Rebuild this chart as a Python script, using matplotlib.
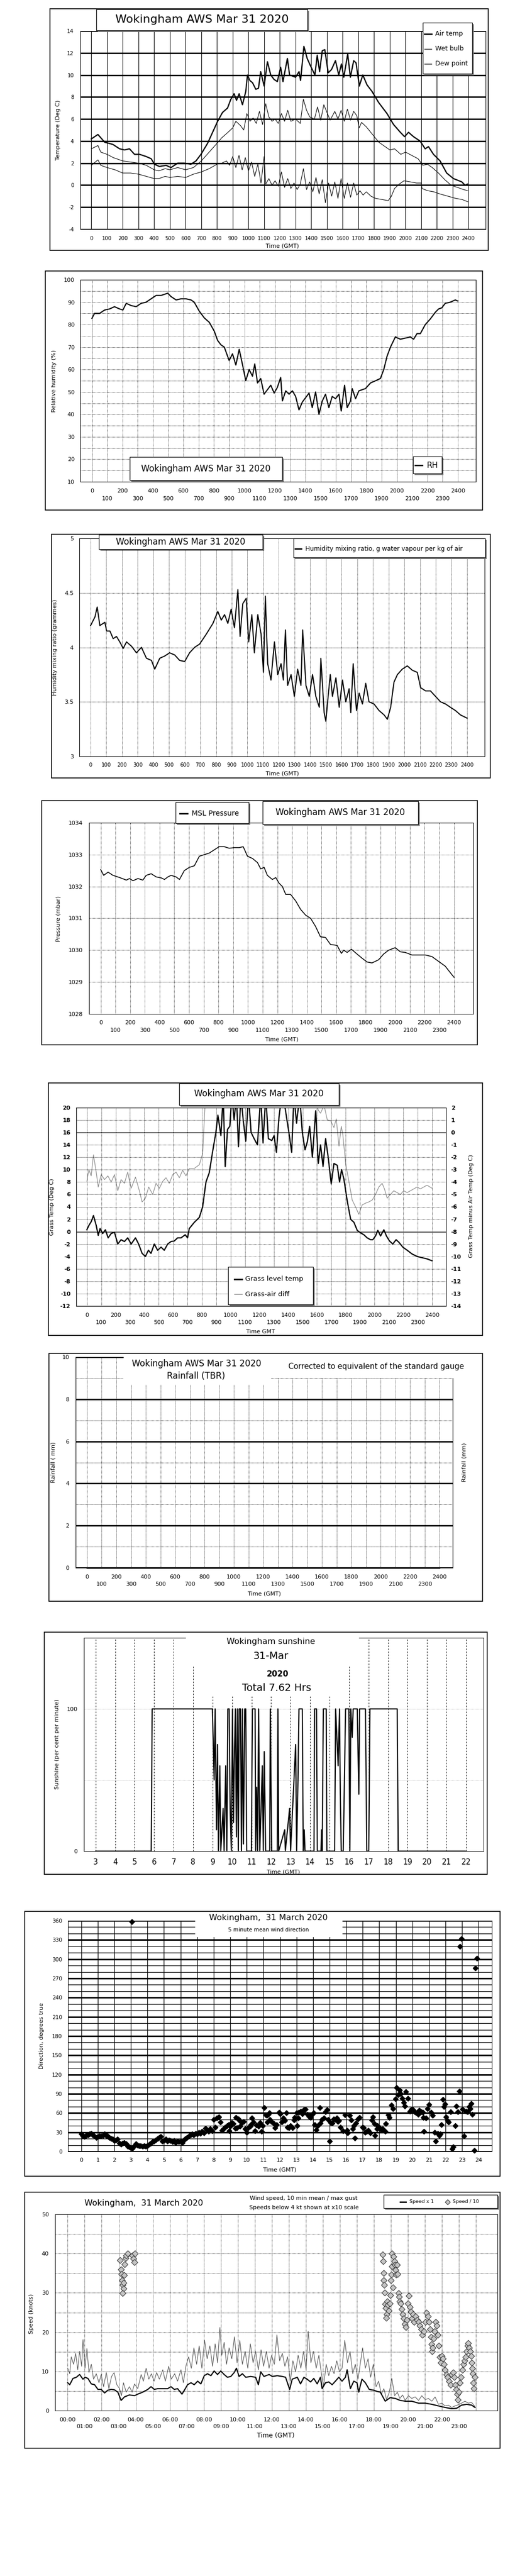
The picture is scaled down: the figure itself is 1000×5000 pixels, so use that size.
import matplotlib
matplotlib.use("Agg")
import matplotlib.pyplot as plt
from matplotlib.patches import Rectangle
from matplotlib.lines import Line2D

plt.rcParams["font.family"] = ["DejaVu Sans"]

W, H = 1000, 5000
STATION = "Wokingham AWS Mar 31 2020"

# ---------------- data (hours GMT) ----------------
air_hours = [0.0, 0.42, 0.85, 1.37, 1.80, 2.11, 2.43, 2.75, 3.07, 3.49, 3.81, 4.02, 4.33, 4.76, 5.07, 5.50,
             5.92, 6.34, 6.66, 6.98, 7.40, 7.72, 8.04, 8.35, 8.67, 8.88, 9.09, 9.24, 9.41, 9.62, 9.83, 9.94,
             10.09, 10.26, 10.47, 10.64, 10.78, 11.00, 11.21, 11.42, 11.63, 11.84, 12.05, 12.20, 12.48, 12.62,
             13.00, 13.22, 13.32, 13.53, 13.74, 13.96, 14.23, 14.38, 14.53, 14.70, 14.86, 15.08, 15.29, 15.54,
             15.75, 15.92, 16.07, 16.32, 16.49, 16.70, 16.85, 17.06, 17.28, 17.55, 17.87, 18.29, 18.82, 19.24,
             19.67, 19.94, 20.19, 20.51, 20.93, 21.25, 21.46, 21.78, 22.20, 22.62, 23.05, 23.58, 23.79, 23.96]
air_temp = [4.2, 4.6, 3.9, 3.7, 3.3, 3.2, 3.3, 2.8, 2.8, 2.6, 2.4, 1.9, 1.7, 1.8, 1.6, 2.0,
            2.0, 1.9, 2.2, 2.8, 3.8, 4.8, 5.8, 6.6, 7.0, 7.8, 8.3, 7.7, 8.3, 7.3, 8.5, 10.0,
            9.5, 9.3, 8.7, 8.8, 10.3, 9.0, 11.2, 10.0, 9.6, 9.4, 10.7, 9.4, 11.5, 10.0,
            9.8, 10.3, 9.5, 12.6, 11.5, 10.8, 10.0, 11.8, 10.3, 12.2, 12.3, 10.2, 10.5, 11.3,
            10.0, 11.0, 9.8, 11.9, 9.8, 11.3, 11.1, 9.0, 10.0, 9.1, 8.5, 7.5, 6.5, 5.5,
            4.8, 4.4, 4.8, 4.4, 4.0, 3.3, 3.5, 2.8, 2.2, 1.1, 0.6, 0.3, 0.0, 0.1]

wet_hours = [0.0, 0.42, 0.6, 1.0, 1.4, 2.0, 2.5, 3.0, 3.5, 4.0, 4.3, 4.7, 5.0, 5.5, 6.0, 6.5, 7.0, 7.5, 8.0,
             8.3, 8.7, 9.0, 9.2, 9.5, 9.7, 9.9, 10.1, 10.3, 10.5, 10.7, 10.9, 11.1, 11.3, 11.5, 11.7, 11.9,
             12.1, 12.3, 12.5, 12.7, 13.0, 13.3, 13.5, 13.7, 13.9, 14.2, 14.4, 14.6, 14.8, 15.0, 15.2, 15.5,
             15.7, 15.9, 16.1, 16.3, 16.5, 16.7, 16.9, 17.05, 17.2, 17.5, 17.9, 18.3, 18.7, 19.0, 19.3, 19.7,
             20.0, 20.4, 20.8, 21.1, 21.4, 21.7, 22.1, 22.5, 22.9, 23.3, 23.7, 23.96]
wet_bulb = [3.3, 3.6, 3.0, 2.8, 2.5, 2.2, 2.1, 2.0, 1.8, 1.4, 1.3, 1.5, 1.4, 1.6, 1.4, 1.6, 2.2, 3.0, 3.8,
            4.3, 4.8, 5.2, 5.8, 5.4, 5.0, 6.5, 5.8, 6.1, 5.6, 6.7, 5.5, 7.4, 6.2, 5.8, 6.0, 5.6,
            6.5, 5.8, 6.8, 5.8, 6.0, 5.6, 7.8, 6.8, 6.2, 6.0, 7.1, 5.9, 7.3, 6.6, 5.9, 6.7,
            6.0, 6.8, 5.8, 6.9, 5.9, 6.7, 6.3, 5.2, 5.7, 5.3, 4.6, 3.9, 3.5, 3.2, 3.3, 2.8,
            3.0, 2.7, 2.4, 1.8, 1.9, 1.6, 1.1, 0.5, 0.0, -0.2, -0.4, -0.5]

dew_hours = [0.0, 0.42, 0.6, 1.0, 1.5, 2.0, 2.5, 3.0, 3.5, 4.0, 4.3, 4.7, 5.0, 5.5, 6.0, 6.5, 7.0, 7.5, 8.0,
             8.3, 8.6, 8.8, 9.0, 9.2, 9.4, 9.6, 9.8, 10.0, 10.2, 10.4, 10.6, 10.8, 11.0, 11.1, 11.3, 11.5,
             11.7, 11.9, 12.1, 12.3, 12.5, 12.7, 12.9, 13.1, 13.3, 13.5, 13.7, 13.9, 14.1, 14.3, 14.5, 14.7,
             14.9, 15.1, 15.3, 15.5, 15.7, 15.9, 16.1, 16.3, 16.5, 16.7, 16.9, 17.1, 17.3, 17.5, 17.8, 18.1,
             18.5, 18.9, 19.1, 19.3, 19.6, 19.9, 20.3, 20.7, 21.0, 21.05, 21.4, 21.8, 22.2, 22.7, 23.2, 23.6,
             23.96]
dew_point = [1.8, 2.3, 1.8, 1.6, 1.4, 1.1, 1.1, 1.0, 0.8, 0.6, 0.6, 0.8, 0.7, 0.8, 0.7, 1.0, 1.2, 1.5, 1.9,
             2.0, 2.2, 1.8, 2.6, 1.6, 2.7, 1.4, 2.5, 1.3, 2.1, 0.8, 1.9, 0.2, 2.6, 0.1, 0.6, 0.0,
             0.4, -0.1, 1.2, -0.2, 0.6, -0.3, 0.2, -0.4, 0.1, 1.5, -0.4, 0.3, -0.6, 0.7, -0.8, 0.5,
             -1.6, 0.2, -1.0, 0.3, -1.2, 0.6, -1.2, 0.2, -1.1, 0.2, -0.9, -0.5, -0.9, -0.6, -1.0, -1.2,
             -1.3, -1.4, -1.0, -0.3, 0.1, 0.4, 0.3, 0.2, 0.2, -0.3, -0.5, -0.6, -0.8, -1.0, -1.2, -1.3,
             -1.5]

rh_hours = [0.0, 0.17, 0.5, 0.83, 1.16, 1.48, 1.81, 2.03, 2.25, 2.57, 2.9, 3.23, 3.55, 3.88, 4.21, 4.53,
            4.97, 5.19, 5.52, 5.84, 6.17, 6.5, 6.71, 7.04, 7.37, 7.7, 8.03, 8.24, 8.46, 8.68, 9.0, 9.22,
            9.44, 9.66, 9.88, 10.09, 10.31, 10.53, 10.68, 10.86, 11.07, 11.29, 11.51, 11.73, 11.95, 12.16,
            12.38, 12.49, 12.71, 12.93, 13.15, 13.36, 13.58, 13.8, 14.02, 14.24, 14.45, 14.67, 14.89, 15.11,
            15.32, 15.54, 15.76, 15.98, 16.2, 16.35, 16.57, 16.74, 16.96, 17.07, 17.29, 17.51, 17.94, 18.27,
            18.6, 18.92, 19.14, 19.36, 19.58, 19.9, 20.23, 20.56, 20.88, 21.1, 21.32, 21.54, 21.86, 22.19,
            22.52, 22.74, 22.95, 23.17, 23.5, 23.83, 24.0]
rh = [82.8, 85, 85, 86.5, 87, 88, 87, 86.5, 89.5, 88.5, 88, 89.5, 90, 91.5, 93, 93,
      94, 92.5, 91, 91.5, 91.5, 91, 90, 86, 83, 81, 77, 73, 71, 70, 64, 67,
      62, 69, 62, 55, 60, 57, 62.5, 54, 56, 49, 51, 53, 49.5, 52,
      56.5, 46, 50.5, 49, 50.5, 48, 42, 45.5, 47.5, 49.5, 43, 50, 40, 46,
      49, 43, 48, 47, 49, 41.5, 53, 43, 46, 51.5, 47, 50.5, 51.5, 54,
      55, 56, 60, 66, 70, 74.5, 73.5, 74, 74.5, 73.5, 76, 76, 80, 82.5,
      85.5, 87, 87.5, 89.5, 90, 91, 90.5]

mr_hours = [0.0, 0.28, 0.42, 0.59, 0.91, 1.02, 1.23, 1.44, 1.65, 1.86, 2.08, 2.29, 2.61, 2.92, 3.24, 3.56,
            3.88, 4.09, 4.41, 4.72, 5.04, 5.36, 5.68, 6.0, 6.31, 6.63, 6.95, 7.37, 7.8, 8.11, 8.33, 8.54,
            8.75, 8.96, 9.17, 9.39, 9.53, 9.7, 9.92, 10.08, 10.28, 10.44, 10.66, 10.87, 11.02, 11.14, 11.29,
            11.5, 11.72, 11.93, 12.14, 12.29, 12.42, 12.56, 12.78, 12.99, 13.2, 13.41, 13.52, 13.73, 13.94,
            14.15, 14.36, 14.58, 14.68, 14.89, 15.0, 15.11, 15.28, 15.42, 15.64, 15.85, 16.06, 16.27, 16.48,
            16.59, 16.74, 16.95, 17.12, 17.33, 17.54, 17.75, 18.07, 18.39, 18.71, 18.92, 19.13, 19.34, 19.56,
            19.87, 20.19, 20.51, 20.83, 21.04, 21.36, 21.67, 21.99, 22.31, 22.63, 22.94, 23.26, 23.58, 24.0]
mixing_ratio = [4.2, 4.28, 4.37, 4.2, 4.23, 4.15, 4.15, 4.08, 4.1, 4.05, 3.99, 4.05, 4.01, 3.95, 4.0, 3.9,
                3.88, 3.8, 3.9, 3.92, 3.95, 3.93, 3.88, 3.87, 3.95, 4.0, 4.03, 4.12, 4.22, 4.33, 4.25, 4.3,
                4.22, 4.35, 4.18, 4.53, 4.1, 4.4, 4.45, 4.05, 4.3, 3.95, 4.3, 4.12, 3.77, 4.47, 3.85,
                3.7, 4.05, 3.75, 3.85, 3.7, 4.16, 3.65, 3.75, 3.55, 3.8, 3.65, 4.16, 3.65, 3.55,
                3.75, 3.55, 3.45, 3.9, 3.4, 3.32, 3.5, 3.75, 3.55, 3.72, 3.45, 3.7, 3.5, 3.62,
                3.4, 3.85, 3.42, 3.58, 3.48, 3.67, 3.5, 3.48, 3.42, 3.38, 3.34, 3.45, 3.68, 3.75,
                3.8, 3.83, 3.79, 3.77, 3.63, 3.6, 3.6, 3.55, 3.5, 3.48, 3.45, 3.42, 3.38, 3.35]

p_hours = [0.0, 0.2, 0.5, 0.83, 1.29, 1.74, 1.96, 2.19, 2.53, 2.86, 3.09, 3.43, 3.77, 4.11, 4.33, 4.56,
           4.78, 5.12, 5.35, 5.68, 6.02, 6.36, 6.7, 7.04, 7.38, 7.71, 8.05, 8.39, 8.73, 9.07, 9.41, 9.68,
           9.97, 10.31, 10.65, 10.87, 11.1, 11.32, 11.66, 11.89, 12.12, 12.34, 12.57, 12.9, 13.24, 13.58,
           13.92, 14.26, 14.59, 14.93, 15.27, 15.61, 16.06, 16.35, 16.51, 16.74, 17.03, 17.41, 17.75, 18.09,
           18.43, 18.88, 19.22, 19.56, 20.01, 20.35, 20.69, 21.14, 21.59, 22.05, 22.5, 22.95, 23.4, 23.74,
           24.0]
msl_pressure = [1032.53, 1032.35, 1032.45, 1032.35, 1032.28, 1032.2, 1032.25, 1032.18, 1032.25, 1032.2,
                1032.35, 1032.4, 1032.3, 1032.27, 1032.22, 1032.3, 1032.35, 1032.3, 1032.22, 1032.5,
                1032.6, 1032.65, 1032.95, 1033.0, 1033.05, 1033.15, 1033.25, 1033.25, 1033.2, 1033.22,
                1033.22, 1033.25, 1032.95, 1032.88, 1032.75, 1032.55, 1032.6, 1032.35, 1032.22, 1032.28,
                1032.1, 1032.0, 1031.75, 1031.75, 1031.55, 1031.28, 1031.1, 1031.0, 1030.75, 1030.42,
                1030.4, 1030.18, 1030.15, 1029.9, 1030.0, 1029.93, 1030.03, 1029.88, 1029.75, 1029.63,
                1029.6, 1029.7, 1029.88, 1030.0, 1030.08, 1029.95, 1029.93, 1029.85, 1029.85, 1029.85,
                1029.8, 1029.65, 1029.5, 1029.3, 1029.15]

grass_hours = [0.0, 0.14, 0.3, 0.46, 0.65, 0.79, 0.92, 1.1, 1.29, 1.48, 1.69, 1.92, 2.15, 2.38, 2.61, 2.84,
               3.08, 3.38, 3.6, 3.84, 4.07, 4.28, 4.46, 4.69, 4.92, 5.16, 5.38, 5.62, 5.85, 6.08, 6.31, 6.55,
               6.84, 7.0, 7.12, 7.47, 7.82, 8.05, 8.28, 8.51, 8.75, 8.97, 9.11, 9.32, 9.48, 9.62, 9.78, 9.94,
               10.08, 10.24, 10.4, 10.54, 10.71, 10.87, 11.05, 11.24, 11.42, 11.63, 11.86, 12.09, 12.25, 12.44,
               12.62, 12.86, 13.02, 13.18, 13.36, 13.55, 13.78, 14.06, 14.24, 14.4, 14.58, 14.8, 14.98, 15.17,
               15.33, 15.49, 15.68, 15.91, 16.09, 16.25, 16.42, 16.6, 16.78, 16.99, 17.18, 17.41, 17.57, 17.71,
               17.87, 18.1, 18.34, 18.57, 18.8, 19.03, 19.26, 19.49, 19.72, 19.88, 20.07, 20.23, 20.42, 20.65,
               20.83, 21.04, 21.27, 21.5, 21.69, 21.97, 22.27, 22.61, 22.96, 23.31, 23.66, 24.0]
grass_temp = [0.3, 1.0, 1.6, 2.6, 1.0, -0.6, 0.5, -0.3, 0.3, -1.0, -0.3, -0.1, -2.0, -1.3, -1.6, -1.0,
              -2.0, -1.0, -2.0, -3.5, -4.0, -3.0, -3.5, -2.0, -3.0, -2.5, -3.0, -2.0, -1.6, -1.5, -1.0, -1.0,
              -0.5, -1.0, 0.5, 1.5, 2.3, 4.0, 8.0, 9.5, 13.0, 16.0, 18.8, 15.5, 22.0, 10.5, 16.5, 17.0,
              22.0, 18.0, 22.0, 13.7, 22.0, 18.0, 14.6, 22.0, 16.0, 15.0, 14.0, 22.0, 14.3, 22.0,
              15.0, 14.7, 15.5, 12.8, 18.5, 22.0, 20.0, 15.8, 12.8, 22.0, 17.5, 22.0, 16.0, 13.2,
              14.5, 17.0, 12.0, 19.5, 11.0, 14.0, 10.5, 15.0, 12.0, 7.7, 11.0, 10.7, 8.0, 10.0,
              8.5, 5.0, 2.0, 1.5, 0.2, -0.2, -0.5, -1.0, -1.3, -1.3, -0.7, 0.2, -0.7, 0.3,
              -0.7, -1.5, -2.0, -1.3, -1.7, -2.5, -3.0, -3.6, -4.0, -4.2, -4.4, -4.7]

diff_hours = [0.0, 0.14, 0.3, 0.46, 0.65, 0.79, 0.99, 1.23, 1.46, 1.69, 1.92, 2.15, 2.38, 2.61, 2.84, 3.08,
              3.38, 3.65, 3.84, 4.07, 4.3, 4.58, 4.81, 5.04, 5.27, 5.5, 5.73, 5.97, 6.2, 6.43, 6.66, 6.89,
              7.12, 7.47, 7.82, 8.05, 8.23, 15.91, 16.09, 16.25, 16.49, 16.72, 16.95, 17.18, 17.34, 17.53,
              17.69, 17.8, 17.99, 18.22, 18.45, 18.68, 18.91, 19.14, 19.38, 19.61, 19.84, 20.07, 20.3, 20.53,
              20.69, 20.88, 21.11, 21.34, 21.57, 21.8, 22.03, 22.27, 22.5, 22.73, 22.96, 23.19, 23.42, 23.65,
              24.0]
grass_air_diff = [-3.95, -3.0, -3.5, -1.8, -3.2, -4.4, -3.4, -3.8, -3.5, -4.0, -3.4, -4.7, -3.8, -4.1, -3.2,
                  -4.5, -3.6, -4.7, -5.6, -5.3, -4.4, -5.0, -4.1, -4.5, -3.95, -3.65, -4.1, -3.4, -3.2, -3.65,
                  -3.05, -3.5, -2.9, -2.9, -2.6, -1.7, 2.5, 2.5, 1.8, 1.55, 2.2, 1.0, 0.95, 0.4, 1.1, -1.1,
                  0.5, -0.2, -2.5, -3.95, -5.45, -6.0, -6.6, -5.85, -5.7, -5.6, -5.45, -5.0, -4.4, -4.1,
                  -4.55, -5.3, -5.0, -4.7, -4.85, -5.0, -4.7, -4.85, -4.7, -4.55, -4.4, -4.55, -4.4, -4.25,
                  -4.5]

rain_hours = [0.0, 24.0]
rain_mm = [0.0, 0.0]

sun_hours = [3.0, 5.85, 5.9, 8.99, 9.08, 9.13, 9.20, 9.25, 9.30, 9.37, 9.42, 9.54, 9.59, 9.67, 9.73, 9.78,
             9.85, 9.90, 9.96, 10.02, 10.07, 10.12, 10.17, 10.22, 10.27, 10.32, 10.36, 10.43, 10.48, 10.53,
             10.58, 10.65, 10.70, 10.75, 10.99, 11.04, 11.18, 11.21, 11.26, 11.31, 11.36, 11.42, 11.55, 11.60,
             11.65, 11.72, 11.93, 11.96, 12.03, 12.32, 12.35, 12.39, 12.70, 12.73, 12.95, 13.00, 13.26, 13.31,
             13.38, 13.43, 13.60, 13.65, 13.70, 13.74, 14.20, 14.23, 14.33, 14.37, 14.56, 14.59, 14.62, 14.68,
             14.83, 14.86, 15.26, 15.31, 15.44, 15.51, 15.55, 15.60, 15.70, 15.75, 15.82, 15.99, 16.04, 16.09,
             16.16, 16.21, 16.42, 16.50, 16.54, 16.84, 16.91, 17.01, 17.07, 18.47, 18.52, 21.97]
sun_pct = [0, 0, 100, 100, 50, 100, 15, 75, 0, 60, 0, 30, 0, 60, 0, 100,
           100, 30, 0, 100, 20, 70, 100, 10, 100, 0, 100, 100, 0, 100,
           5, 100, 100, 0, 0, 100, 100, 0, 45, 0, 100, 0, 60, 0,
           70, 0, 0, 100, 0, 0, 100, 0, 15, 0, 30, 0, 75, 0,
           50, 100, 100, 0, 15, 0, 0, 100, 100, 0, 0, 15, 0, 100,
           100, 0, 0, 100, 60, 100, 40, 0, 0, 40, 100, 100, 0, 100,
           80, 100, 100, 40, 100, 100, 0, 0, 100, 100, 0, 0]

dir_hours_night = [0.0, 0.1, 0.2, 0.3, 0.4, 0.5, 0.6, 0.7, 0.8, 0.9, 1.0, 1.1, 1.2, 1.3, 1.4, 1.5, 1.6, 1.7,
                   1.8, 1.9, 2.0, 2.1, 2.2, 2.3, 2.4, 2.5, 2.6, 2.7, 2.8, 2.9, 3.0, 3.07, 3.1, 3.2, 3.3, 3.4,
                   3.5, 3.6, 3.7, 3.8, 3.9, 4.0, 4.1, 4.2, 4.3, 4.4, 4.5, 4.6, 4.7, 4.8, 4.9, 5.0, 5.1, 5.2,
                   5.3, 5.4, 5.5, 5.6, 5.7, 5.8, 5.9, 6.0, 6.1, 6.2, 6.3, 6.4, 6.5, 6.6, 6.7, 6.8, 6.9, 7.0,
                   7.1, 7.2, 7.3, 7.4, 7.5, 7.6, 7.7, 7.8, 7.9]
dir_deg_night = [27, 24, 23, 25, 26, 27, 28, 26, 24, 22, 23, 24, 24, 25, 27, 25, 24, 22,
                 20, 19, 17, 18, 19, 13, 11, 13, 14, 12, 8, 7, 6, 358, 5, 9, 12, 10,
                 9, 9, 8, 9, 8, 9, 11, 13, 15, 16, 18, 20, 22, 23, 16, 17, 19, 16,
                 18, 17, 15, 17, 14, 16, 15, 16, 14, 18, 20, 22, 24, 26, 27, 26, 28, 27,
                 30, 28, 31, 29, 36, 34, 31, 35, 32]
dir_hours_day = [8.0, 8.1, 8.2, 8.3, 8.4, 8.5, 8.6, 8.7, 8.8, 8.9, 8.95, 9.0, 9.1, 9.2, 9.3, 9.35, 9.4, 9.5,
                 9.55, 9.6, 9.7, 9.8, 9.9, 10.0, 10.1, 10.2, 10.25, 10.3, 10.4, 10.5, 10.6, 10.7, 10.8, 10.9,
                 10.95, 11.05, 11.15, 11.2, 11.25, 11.3, 11.35, 11.4, 11.5, 11.6, 11.7, 11.8, 11.95, 12.0,
                 12.1, 12.2, 12.25, 12.3, 12.4, 12.45, 12.55, 12.65, 12.75, 12.85, 12.9, 13.0, 13.05, 13.1,
                 13.15, 13.25, 13.35, 13.45, 13.55, 13.65, 13.75, 13.85, 13.95, 14.05, 14.1, 14.2, 14.3, 14.4,
                 14.45, 14.55, 14.65, 14.75, 14.85, 14.9, 15.0, 15.05, 15.15, 15.25, 15.35, 15.45, 15.5, 15.55,
                 15.65, 15.8, 15.95, 16.05, 16.1, 16.2, 16.3, 16.4, 16.45, 16.53, 16.6, 16.7, 16.8, 17.0,
                 17.05, 17.15, 17.25, 17.35, 17.47, 17.55, 17.6, 17.7, 17.75, 17.85, 17.9, 18.0, 18.1, 18.2,
                 18.35, 18.4]
dir_deg_day = [50, 38, 52, 54, 46, 33, 35, 38, 40, 42, 32, 39, 45, 43, 36, 53, 37, 51,
               48, 39, 45, 47, 35, 30, 37, 39, 42, 52, 46, 32, 41, 39, 45, 31,
               40, 68, 57, 56, 46, 58, 60, 50, 47, 44, 37, 42, 61, 59,
               46, 52, 50, 48, 60, 38, 37, 40, 37, 49, 53, 60, 40, 52,
               61, 63, 59, 65, 66, 58, 55, 53, 58, 60, 42, 34, 40, 68,
               44, 50, 52, 62, 65, 50, 16, 45, 44, 51, 50, 52, 47, 48,
               38, 32, 57, 33, 29, 56, 49, 35, 40, 21, 44, 51, 53, 38,
               37, 30, 31, 33, 29, 49, 54, 43, 25, 35, 40, 38, 34, 35,
               31, 43]
dir_hours_eve = [18.55, 18.6, 18.72, 18.83, 18.98, 19.04, 19.14, 19.24, 19.3, 19.38, 19.48, 19.54, 19.62,
                 19.74, 19.84, 19.94, 20.04, 20.14, 20.24, 20.34, 20.42, 20.54, 20.62, 20.66, 20.68, 20.82,
                 20.92, 21.02, 21.14, 21.22, 21.34, 21.42, 21.54, 21.62, 21.68, 21.74, 21.84, 21.92, 21.98,
                 22.04, 22.12, 22.18, 22.32, 22.39, 22.47, 22.59, 22.65, 22.75, 22.83, 22.87, 22.97, 23.03,
                 23.13, 23.23, 23.33, 23.43, 23.49, 23.55, 23.63, 23.75, 23.8, 23.9]
dir_deg_eve = [57, 53, 72, 67, 82, 100, 88, 96, 90, 83, 76, 71, 93,
               83, 63, 66, 65, 62, 60, 58, 64, 62, 61, 53, 31, 52,
               67, 73, 61, 56, 30, 16, 28, 25, 27, 42, 81, 70, 74,
               54, 48, 46, 62, 4, 7, 40, 71, 62, 94, 320, 332, 66,
               24, 63, 62, 70, 67, 75, 58, 2, 286, 301]

mean_hours = [0.00, 0.12, 0.31, 0.51, 0.70, 0.90, 1.02, 1.19, 1.39, 1.58, 1.78, 1.97, 2.17, 2.36, 2.56, 2.75,
              2.95, 3.14, 3.34, 3.63, 3.93, 4.12, 4.41, 4.71, 4.90, 5.10, 5.29, 5.59, 5.88, 6.07, 6.27, 6.46,
              6.72, 6.86, 7.05, 7.25, 7.44, 7.64, 7.83, 8.03, 8.22, 8.42, 8.61, 8.81, 9.00, 9.20, 9.39, 9.59,
              9.79, 9.92, 10.08, 10.27, 10.47, 10.76, 11.05, 11.21, 11.35, 11.54, 11.84, 12.03, 12.32, 12.62,
              12.81, 13.05, 13.20, 13.50, 13.69, 13.89, 14.08, 14.28, 14.47, 14.67, 14.86, 14.96, 15.16, 15.35,
              15.55, 15.74, 15.94, 16.13, 16.33, 16.43, 16.62, 16.82, 17.01, 17.11, 17.30, 17.50, 17.73, 17.99,
              18.18, 18.38, 18.67, 18.96, 19.26, 19.55, 19.84, 20.23, 20.63, 21.02, 21.41, 21.80, 22.19, 22.58,
              22.87, 23.16, 23.46, 23.75, 23.95]
mean_speed = [7.1, 6.6, 8.2, 8.5, 9.2, 8.0, 8.5, 8.2, 6.8, 6.6, 5.4, 5.4, 4.5, 5.2, 5.4, 5.3,
              4.7, 2.6, 3.5, 4.0, 3.8, 4.2, 4.7, 5.4, 6.1, 5.4, 5.6, 5.6, 5.6, 6.1, 5.4, 5.6,
              4.2, 5.2, 6.6, 7.1, 6.6, 7.5, 6.8, 8.9, 9.4, 8.9, 10.1, 9.2, 10.1, 9.2, 8.5, 8.7,
              9.7, 10.8, 8.7, 9.4, 8.5, 8.7, 8.5, 6.6, 9.9, 8.7, 9.2, 8.7, 8.9, 8.7,
              8.5, 5.4, 8.0, 8.5, 6.8, 8.5, 8.0, 7.3, 8.2, 6.8, 8.5, 5.6, 7.1, 7.3,
              6.6, 7.5, 8.5, 7.5, 8.5, 10.4, 5.6, 7.5, 7.1, 4.7, 8.0, 7.1, 5.4, 5.2,
              4.9, 4.7, 2.4, 3.3, 3.1, 2.6, 2.4, 2.4, 1.9, 1.9, 1.6, 1.2, 0.8, 0.5,
              0.6, 1.4, 1.6, 1.4, 0.8]

gust_hours = [0.00, 0.12, 0.21, 0.35, 0.47, 0.59, 0.70, 0.82, 0.90, 1.02, 1.13, 1.25, 1.39, 1.52, 1.68, 1.84,
              1.97, 2.11, 2.27, 2.42, 2.58, 2.73, 2.89, 3.05, 3.16, 3.28, 3.44, 3.63, 3.79, 3.93, 4.12, 4.32,
              4.45, 4.61, 4.77, 4.92, 5.08, 5.23, 5.39, 5.59, 5.74, 5.94, 6.09, 6.29, 6.46, 6.66, 6.80, 6.95,
              7.11, 7.27, 7.42, 7.58, 7.73, 7.89, 8.05, 8.20, 8.36, 8.52, 8.67, 8.81, 8.95, 9.06, 9.20, 9.34,
              9.49, 9.65, 9.80, 9.96, 10.12, 10.27, 10.43, 10.59, 10.74, 10.90, 11.05, 11.21, 11.37, 11.52,
              11.68, 11.84, 11.99, 12.15, 12.30, 12.46, 12.62, 12.77, 12.93, 13.09, 13.24, 13.40, 13.55, 13.71,
              13.87, 14.02, 14.14, 14.30, 14.45, 14.61, 14.77, 14.92, 15.04, 15.20, 15.35, 15.51, 15.66, 15.82,
              15.98, 16.13, 16.29, 16.45, 16.60, 16.76, 16.91, 17.07, 17.23, 17.34, 17.50, 17.66, 17.81, 17.97,
              18.13, 18.28, 18.44, 18.59, 18.75, 18.91, 19.06, 19.22, 19.38, 19.53, 19.69, 19.84, 20.04, 20.23,
              20.43, 20.63, 20.82, 21.02, 21.21, 21.41, 21.60, 21.80, 21.99, 22.19, 22.38, 22.58, 22.77, 22.97,
              23.16, 23.36, 23.55, 23.75, 23.95]
gust_speed = [10.8, 9.4, 13.7, 11.8, 14.6, 10.4, 15.1, 11.3, 18.1, 10.8, 15.8, 9.7, 11.8, 8.0, 9.4, 7.1,
              9.2, 6.1, 9.7, 5.6, 8.7, 9.7, 6.6, 5.6, 3.8, 7.1, 4.7, 6.1, 4.7, 6.8, 5.6, 9.2,
              7.5, 10.8, 8.0, 9.4, 7.5, 9.7, 8.0, 10.4, 7.5, 11.3, 8.0, 9.4, 7.5, 10.4, 7.1, 11.3,
              13.7, 10.8, 16.0, 11.8, 16.5, 10.8, 17.9, 13.2, 16.5, 11.3, 17.0, 12.2, 21.2, 14.1, 17.4, 11.8,
              16.0, 13.2, 18.8, 12.2, 17.9, 11.8, 15.1, 10.8, 17.0, 12.2, 15.1, 10.4, 15.5, 11.3,
              15.1, 10.8, 14.1, 11.8, 19.3, 12.7, 14.6, 11.3, 13.7, 7.5, 12.7, 9.9, 14.1, 10.8,
              15.1, 10.4, 20.2, 12.2, 15.1, 10.8, 14.1, 9.4, 6.1, 11.8, 8.9, 11.3, 9.4, 12.7,
              9.9, 10.8, 17.9, 12.2, 15.1, 9.4, 11.8, 8.0, 12.7, 16.0, 10.8, 13.2, 8.5, 11.8,
              6.1, 7.5, 4.2, 5.6, 2.8, 4.7, 8.2, 3.8, 4.7, 3.1, 4.0, 2.6, 3.8, 3.1,
              3.5, 2.6, 3.8, 2.8, 3.1, 2.4, 3.5, 1.6, 1.9, 1.2, 1.4, 0.8, 1.2, 1.5,
              1.9, 2.4, 1.9, 2.1, 1.0]

slow_hours = [3.09, 3.13, 3.16, 3.20, 3.24, 3.28, 3.24, 3.32, 3.36, 3.40, 3.44, 3.52, 3.79, 3.87, 3.91, 3.95,
              3.28, 18.52, 18.54, 18.57, 18.59, 18.61, 18.63, 18.67, 18.71, 18.75, 18.73, 18.79, 18.83, 18.87,
              18.93, 18.96, 19.00, 19.02, 19.06, 19.06, 19.12, 19.16, 19.20, 19.24, 19.28, 19.32, 19.36, 19.40,
              19.45, 19.49, 19.53, 19.59, 19.65, 19.71, 19.77, 19.82, 19.88, 19.94, 20.00, 20.06, 20.12, 20.18,
              20.23, 20.31, 20.37, 20.47, 20.55, 20.63, 20.70, 20.78, 20.86, 20.94, 21.02, 21.09, 21.17, 21.23,
              21.29, 21.35, 21.39, 21.43, 21.46, 21.52, 21.58, 21.64, 21.70, 21.76, 21.82, 21.88, 21.93, 21.99,
              22.05, 22.11, 22.19, 22.27, 22.34, 22.42, 22.50, 22.58, 22.66, 22.73, 22.79, 22.85, 22.91, 22.95,
              23.01, 23.07, 23.13, 23.20, 23.26, 23.32, 23.38, 23.44, 23.50, 23.55, 23.61, 23.67, 23.73, 23.77,
              23.79, 23.81, 23.85, 23.89, 23.93]
slow_speed_x10 = [38.3, 35.9, 34.8, 33.2, 32.0, 31.1, 29.9, 34.5, 37.3, 38.8, 39.5, 40.0, 39.5, 38.7, 37.8, 40.0,
                  32.5, 39.8, 38.1, 35.1, 33.2, 32.0, 30.1, 27.1, 26.1, 24.5, 23.6, 27.8, 26.9, 25.4,
                  27.3, 29.4, 33.2, 34.6, 36.7, 40.0, 31.3, 39.3, 38.1, 37.2, 35.8, 34.6, 37.2, 34.8,
                  29.9, 29.0, 27.8, 27.3, 25.9, 24.5, 23.5, 22.1, 21.2, 23.1, 27.3, 29.2, 26.4, 25.2,
                  23.5, 24.5, 22.6, 24.0, 23.1, 22.6, 21.7, 20.7, 19.3, 20.2, 22.6, 25.0, 24.0, 22.6,
                  20.7, 18.8, 16.9, 15.1, 16.0, 18.4, 20.2, 22.6, 21.7, 19.3, 16.5, 13.7, 12.2, 13.9,
                  13.2, 11.8, 10.4, 9.2, 8.5, 7.5, 6.6, 9.2, 9.7, 8.5, 6.6, 5.4, 4.2, 2.8,
                  4.7, 7.1, 8.5, 10.4, 11.8, 12.7, 13.7, 15.1, 16.5, 17.2, 16.0, 15.1, 13.9, 12.2,
                  10.8, 9.4, 7.1, 5.6, 8.5]

day_hours = list(range(25))
hhmm_labels = [str(h * 100) for h in day_hours]

# ---------------- figure helpers ----------------
fig = plt.figure(figsize=(W / 100, H / 100), dpi=100)
fig.patch.set_facecolor("white")

DOT = (0, (1, 1.5))


def axes_px(l, t, r, b):
    return fig.add_axes([l / W, 1 - b / H, (r - l) / W, (b - t) / H])


def rect_px(l, t, r, b, **kw):
    fig.add_artist(Rectangle((l / W, 1 - b / H), (r - l) / W, (b - t) / H,
                             transform=fig.transFigure, **kw))


def frame_px(l, t, r, b):
    rect_px(l, t, r, b, fill=False, ec="black", lw=1.2, zorder=2)


def box_px(l, t, r, b, shadow=True):
    if shadow:
        rect_px(l + 3, t + 3, r + 3, b + 3, fc="#7a7a7a", ec="none", zorder=3)
    rect_px(l, t, r, b, fc="white", ec="black", lw=0.9, zorder=3)


def blank_px(l, t, r, b):
    rect_px(l, t, r, b, fc="white", ec="none", zorder=3)


def text_px(x, y, s, **kw):
    kw.setdefault("ha", "center")
    kw.setdefault("va", "center")
    kw.setdefault("zorder", 4)
    fig.text(x / W, 1 - y / H, s, **kw)


def key_line(x0, x1, y, **kw):
    fig.add_artist(Line2D([x0 / W, x1 / W], [1 - y / H, 1 - y / H],
                          transform=fig.transFigure, zorder=4, **kw))


def set_hours(ax, hours, labels, size=8, pad=9.4, row_pad=None):
    if row_pad is None:
        ax.set_xticks(hours)
        ax.set_xticklabels(labels, fontsize=size)
    else:
        ax.set_xticks(hours[0::2])
        ax.set_xticklabels(labels[0::2], fontsize=size)
        ax.set_xticks(hours[1::2], minor=True)
        ax.set_xticklabels(labels[1::2], minor=True, fontsize=size)
        ax.tick_params(axis="x", which="minor", pad=row_pad)
    ax.tick_params(axis="x", which="major", pad=pad)
    ax.tick_params(axis="both", which="both", length=0)


def set_yvals(ax, values, labels=None, size=8, pad=8, **kw):
    ax.set_yticks(values)
    ax.set_yticklabels(labels if labels is not None else [str(v) for v in values], fontsize=size, **kw)
    ax.tick_params(axis="y", which="major", pad=pad, length=0)


def ylabel_px(x, y, s, size=8):
    text_px(x, y, s, rotation=90, fontsize=size)


# ---------------- 1: temperatures ----------------
frame_px(97, 17, 948, 486)
ax = axes_px(156, 60, 943, 445)
ax.plot(dew_hours, dew_point, color="black", lw=0.8)
ax.plot(wet_hours, wet_bulb, color="black", lw=0.8)
ax.plot(air_hours, air_temp, color="black", lw=1.7)
ax.set_xlim(-0.70, 25.1)
ax.set_ylim(-4, 14)
set_hours(ax, day_hours, hhmm_labels, size=7.3, pad=9.4)
set_yvals(ax, list(range(-4, 15, 2)), size=7.5, pad=9)
ax.yaxis.grid(True, color="black", lw=2.0)
ax.xaxis.grid(True, color="black", lw=0.8)
ax.set_axisbelow(True)
ylabel_px(113, 253, "Temperature (Deg C)")
text_px(548, 478, "Time (GMT)", fontsize=8)
box_px(187, 18, 597, 59)
text_px(392, 38, STATION, fontsize=16)
box_px(821, 44, 917, 143)
key_line(824, 838, 66, color="black", lw=2.0)
key_line(824, 838, 95, color="black", lw=0.8)
key_line(824, 838, 124, color="black", lw=0.8)
text_px(845, 66, "Air temp", ha="left", fontsize=9)
text_px(845, 95, "Wet bulb", ha="left", fontsize=9)
text_px(845, 124, "Dew point", ha="left", fontsize=9)

# ---------------- 2: relative humidity ----------------
frame_px(88, 526, 937, 990)
ax = axes_px(156, 543, 924, 935)
ax.plot(rh_hours, rh, color="black", lw=1.6)
ax.set_xlim(-0.76, 25.18)
ax.set_ylim(10, 100)
set_hours(ax, day_hours, hhmm_labels, size=8, pad=9.4, row_pad=20)
set_yvals(ax, list(range(10, 101, 10)), pad=8)
ax.set_yticks(list(range(15, 100, 10)), minor=True)
ax.grid(True, which="both", color="black", lw=0.7, ls=DOT)
ylabel_px(105, 739, "Relative humidity (%)")
box_px(252, 887, 548, 932)
text_px(400, 910, STATION, fontsize=12)
box_px(802, 886, 858, 919)
key_line(806, 820, 903, color="black", lw=2.0)
text_px(828, 903, "RH", ha="left", fontsize=11)

# ---------------- 3: mixing ratio ----------------
frame_px(100, 1037, 952, 1510)
ax = axes_px(154, 1045, 941, 1468)
ax.plot(mr_hours, mixing_ratio, color="black", lw=1.5)
ax.set_xlim(-0.72, 25.12)
ax.set_ylim(3, 5)
set_hours(ax, day_hours, hhmm_labels, size=7.3, pad=8.6)
set_yvals(ax, [3, 3.5, 4, 4.5, 5], ["3", "3.5", "4", "4.5", "5"], pad=8)
ax.grid(True, color="black", lw=0.7, ls=DOT)
ylabel_px(107, 1257, "Humidity mixing ratio (grammes)")
text_px(548, 1501, "Time (GMT)", fontsize=8)
box_px(192, 1038, 510, 1066)
text_px(351, 1052, STATION, fontsize=12)
box_px(570, 1045, 942, 1082)
key_line(573, 585, 1065, color="black", lw=2.0)
text_px(593, 1065, "Humidity mixing ratio, g water vapour per kg of air", ha="left", fontsize=8.6)

# ---------------- 4: pressure ----------------
frame_px(81, 1554, 927, 2028)
ax = axes_px(173, 1597, 919, 1968)
ax.plot(p_hours, msl_pressure, color="black", lw=1.2)
ax.set_xlim(-0.79, 25.31)
ax.set_ylim(1028, 1034)
set_hours(ax, day_hours, hhmm_labels, size=8, pad=8.6, row_pad=19.4)
set_yvals(ax, list(range(1028, 1035)), pad=8.6)
ax.grid(True, which="both", color="black", lw=0.7, ls=DOT)
ylabel_px(114, 1783, "Pressure (mbar)")
text_px(547, 2017, "Time (GMT)", fontsize=8)
box_px(510, 1555, 812, 1600)
text_px(661, 1577, STATION, fontsize=12)
box_px(341, 1557, 483, 1598)
key_line(349, 364, 1579, color="black", lw=2.0)
text_px(372, 1579, "MSL Pressure", ha="left", fontsize=10)

# ---------------- 5: grass temperature ----------------
frame_px(94, 2102, 937, 2592)
ax = axes_px(148, 2150, 866, 2535)
ax.set_xlim(-0.74, 24.97)
ax.set_ylim(-12, 20)
ax2 = ax.twinx()
ax2.set_ylim(-14, 2)
ax2.plot(diff_hours, grass_air_diff, color="#8c8c8c", lw=0.9)
ax.set_zorder(ax2.get_zorder() + 1)
ax.patch.set_visible(False)
ax.plot(grass_hours, grass_temp, color="black", lw=1.7)
set_hours(ax, day_hours, hhmm_labels, size=8, pad=9.4, row_pad=19.4)
set_yvals(ax, list(range(-12, 21, 2)), pad=8, fontweight="bold")
ax2.set_yticks(list(range(-14, 3)))
ax2.set_yticklabels([str(v) for v in range(-14, 3)], fontsize=8, fontweight="bold")
ax2.tick_params(axis="y", length=0, pad=7)
ax.grid(True, which="both", color="black", lw=0.7, ls=DOT)
ax.axhline(0, color="black", lw=0.9)
ax.axhline(16, color="black", lw=0.9)
ylabel_px(101, 2343, "Grass Temp (Deg C)")
ylabel_px(915, 2341, "Grass Temp minus Air Temp (Deg C)")
text_px(506, 2585, "Time GMT", fontsize=8)
box_px(348, 2103, 658, 2145)
text_px(503, 2123, STATION, fontsize=12)
box_px(443, 2459, 608, 2532)
key_line(455, 470, 2483, color="black", lw=2.0)
key_line(455, 470, 2512, color="#8c8c8c", lw=1.0)
text_px(476, 2483, "Grass level temp", ha="left", fontsize=9.5)
text_px(476, 2512, "Grass-air diff", ha="left", fontsize=9.5)

# ---------------- 6: rainfall ----------------
frame_px(95, 2627, 937, 3108)
ax = axes_px(147, 2634, 879, 3043)
ax.plot(rain_hours, rain_mm, color="black", lw=2.2, clip_on=False)
ax.set_xlim(-0.77, 24.9)
ax.set_ylim(0, 10)
set_hours(ax, day_hours, hhmm_labels, size=8, pad=9.4, row_pad=19.4)
set_yvals(ax, [0, 2, 4, 6, 8, 10], pad=9)
ax.set_yticks([1, 3, 5, 7, 9], minor=True)
ax.yaxis.grid(True, which="major", color="black", lw=2.0)
ax.yaxis.grid(True, which="minor", color="black", lw=0.7, ls=DOT)
ax.xaxis.grid(True, which="both", color="black", lw=0.7, ls=DOT)
ax.set_axisbelow(True)
ylabel_px(103, 2838, "Rainfall ( mm)")
ylabel_px(902, 2838, "Rainfall (mm)")
text_px(513, 3093, "Time (GMT)", fontsize=8)
blank_px(240, 2631, 882, 2675)
blank_px(240, 2675, 526, 2688)
text_px(382, 2647, STATION, fontsize=12)
text_px(381, 2671, "Rainfall (TBR)", fontsize=12)
text_px(731, 2653, "Corrected to equivalent of the standard gauge", fontsize=10.5)

# ---------------- 7: sunshine ----------------
frame_px(86, 3168, 946, 3638)
ax = axes_px(163, 3179, 939, 3593)
ax.plot(sun_hours, sun_pct, color="black", lw=1.6)
ax.set_xlim(2.4, 22.9)
ax.set_ylim(0, 150)
sun_ticks = list(range(3, 23))
set_hours(ax, sun_ticks, [str(h) for h in sun_ticks], size=10.5, pad=10)
set_yvals(ax, [0, 50, 100], ["0", "", "100"], pad=9)
ax.yaxis.grid(True, color="#9a9a9a", lw=0.7, ls=DOT)
ax.xaxis.grid(True, color="black", lw=0.7, ls=(0, (3, 3)))
ax.set_axisbelow(True)
ylabel_px(111, 3385, "Sunshine (per cent per minute)")
text_px(550, 3634, "Time (GMT)", fontsize=8)
blank_px(361, 3176, 697, 3235)
blank_px(378, 3235, 677, 3291)
text_px(526, 3187, "Wokingham sunshine", fontsize=11.5)
text_px(526, 3215, "31-Mar", fontsize=14)
text_px(539, 3250, "2020", fontsize=11, fontweight="bold")
text_px(537, 3276, "Total 7.62 Hrs", fontsize=14)

# ---------------- 8: wind direction ----------------
frame_px(48, 3710, 971, 4224)
ax = axes_px(132, 3728, 955, 4176)
for hrs, degs in [(dir_hours_night, dir_deg_night), (dir_hours_day, dir_deg_day),
                  (dir_hours_eve, dir_deg_eve)]:
    ax.plot(hrs, degs, ls="none", marker="D", ms=5.5, color="black", clip_on=False, zorder=3)
ax.set_xlim(-0.80, 24.8)
ax.set_ylim(0, 360)
set_hours(ax, day_hours, [str(h) for h in day_hours], size=8, pad=8.6)
set_yvals(ax, list(range(0, 361, 30)), size=7.5, pad=8)
ax.set_yticks(list(range(10, 360, 10)), minor=True)
ax.yaxis.grid(True, which="major", color="black", lw=2.2)
ax.yaxis.grid(True, which="minor", color="black", lw=0.9)
ax.xaxis.grid(True, color="black", lw=0.9)
ax.set_axisbelow(True)
ylabel_px(81, 3952, "Direction, degrees true")
text_px(543, 4212, "Time (GMT)", fontsize=8)
blank_px(379, 3724, 665, 3760)
text_px(521, 3723, "Wokingham,  31 March 2020", fontsize=11.5)
text_px(521, 3746, "5 minute mean wind direction", fontsize=7.5)

# ---------------- 9: wind speed ----------------
frame_px(48, 4255, 971, 4752)
ax = axes_px(107, 4298, 966, 4679)
ax.plot(gust_hours, gust_speed, color="#555555", lw=0.8)
ax.plot(mean_hours, mean_speed, color="black", lw=1.6)
ax.plot(slow_hours, slow_speed_x10, ls="none", marker="D", ms=6.5, mfc="#c4c4c4", mec="#3c3c3c", mew=0.8)
ax.set_xlim(-0.74, 25.27)
ax.set_ylim(0, 50)
set_hours(ax, day_hours, ["%02d:00" % h for h in range(24)] + [""], size=8, pad=9.4, row_pad=18.7)
set_yvals(ax, list(range(0, 51, 10)), pad=8.6)
ax.set_yticks(list(range(5, 50, 10)), minor=True)
ax.grid(True, which="both", color="black", lw=0.7, ls=DOT)
ylabel_px(61, 4491, "Speed (knots)")
text_px(535, 4728, "Time (GMT)", fontsize=9)
text_px(279, 4276, "Wokingham,  31 March 2020", fontsize=11.5)
text_px(590, 4267, "Wind speed, 10 min mean / max gust", fontsize=8)
text_px(590, 4285, "Speeds below 4 kt shown at x10 scale", fontsize=8)
box_px(745, 4260, 966, 4286)
key_line(777, 788, 4274, color="black", lw=2.0)
text_px(795, 4274, "Speed x 1", ha="left", fontsize=6.8)
fig.add_artist(Line2D([869 / W], [1 - 4274 / H], transform=fig.transFigure, ls="none", marker="D",
                      ms=5, mfc="#c4c4c4", mec="#3c3c3c", mew=0.8, zorder=4))
text_px(879, 4274, "Speed / 10", ha="left", fontsize=6.8)

fig.savefig("out.png", dpi=100, facecolor="white")
